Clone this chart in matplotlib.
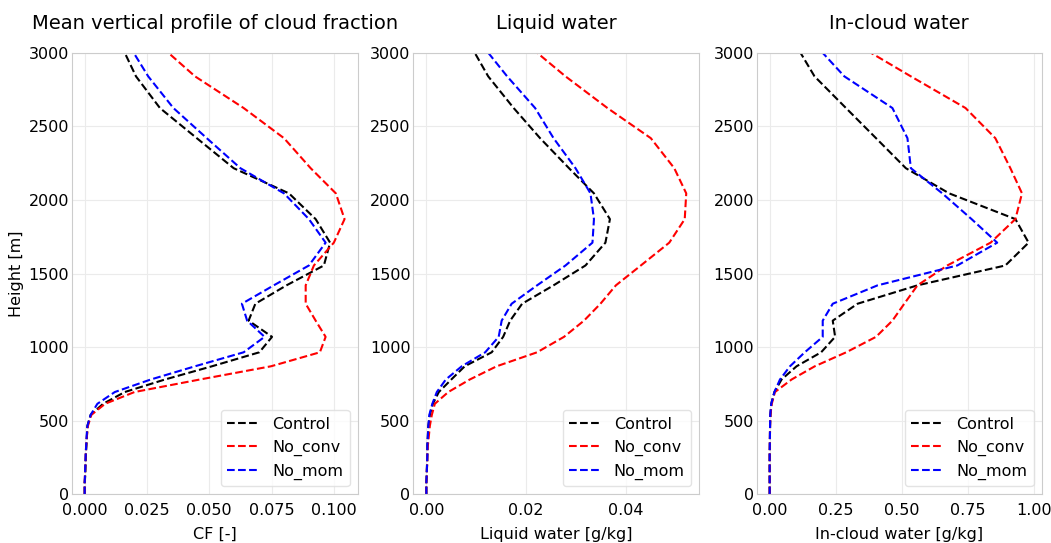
import numpy as np
import matplotlib
matplotlib.use("Agg")
import matplotlib.pyplot as plt

# model levels [m]
height = [0, 20, 45, 80, 120, 165, 215, 270, 330, 395, 465, 540, 615, 695, 780,
          870, 965, 1070, 1180, 1295, 1420, 1555, 1710, 1870, 2045, 2216, 2420,
          2625, 2840, 3060]

# cloud fraction [-]
cf_control = [0, 0, 0, 0, 0.0002, 0.0003, 0.0004, 0.0005, 0.0007, 0.0009, 0.0011,
              0.0024, 0.0074, 0.0161, 0.0322, 0.0511, 0.0701, 0.0752, 0.0658,
              0.0685, 0.081, 0.096, 0.0985, 0.0927, 0.082, 0.0598, 0.045, 0.0302,
              0.0206, 0.0144]
cf_noconv = [0, 0, 0, 0, 0.0001, 0.0002, 0.0003, 0.0004, 0.0006, 0.0009, 0.0013,
             0.0027, 0.0082, 0.020, 0.0462, 0.0748, 0.0944, 0.0967, 0.0927,
             0.0887, 0.0887, 0.092, 0.100, 0.1043, 0.1008, 0.0907, 0.080, 0.0638,
             0.0443, 0.0296]
cf_nomom = [0, 0, 0, 0, 0.0001, 0.0002, 0.0003, 0.0004, 0.0006, 0.0008, 0.0011,
            0.0024, 0.0051, 0.0121, 0.0265, 0.0443, 0.0638, 0.0722, 0.0652,
            0.0631, 0.0759, 0.090, 0.0967, 0.090, 0.080, 0.0625, 0.049, 0.0356,
            0.0255, 0.0175]

# liquid water [g/kg]
lw_control = [0, 0, 0, 0, 0.00005, 0.0001, 0.00015, 0.0002, 0.0002, 0.0003, 0.0004,
              0.0007, 0.0013, 0.0025, 0.005, 0.0077, 0.0131, 0.0154, 0.0168,
              0.0192, 0.0255, 0.0319, 0.0359, 0.0368, 0.0336, 0.0286, 0.0228,
              0.0175, 0.0124, 0.0087]
lw_noconv = [0, 0, 0, 0, 0.0001, 0.0001, 0.0002, 0.0002, 0.0003, 0.0005, 0.0007,
             0.0011, 0.0017, 0.0044, 0.0087, 0.0141, 0.0222, 0.0276, 0.0316,
             0.0349, 0.038, 0.043, 0.0487, 0.0518, 0.0521, 0.0497, 0.045, 0.0363,
             0.0279, 0.0201]
lw_nomom = [0, 0, 0, 0, 0.00005, 0.0001, 0.00015, 0.0002, 0.0002, 0.0003, 0.0004,
            0.0006, 0.0012, 0.0021, 0.0039, 0.0071, 0.0118, 0.0145, 0.0151,
            0.0171, 0.0222, 0.0279, 0.0333, 0.0336, 0.0329, 0.0299, 0.0255,
            0.0218, 0.0162, 0.0110]

# in-cloud water [g/kg]
icw_control = [0, 0, 0, 0, 0, 0, 0, 0, 0.0005, 0.001, 0.0015, 0.003, 0.006, 0.018,
               0.045, 0.102, 0.195, 0.248, 0.239, 0.333, 0.560, 0.893, 0.981,
               0.931, 0.68, 0.516, 0.403, 0.289, 0.170, 0.097]
icw_noconv = [0, 0, 0, 0, 0, 0, 0, 0, 0.0005, 0.001, 0.0015, 0.003, 0.008, 0.020,
              0.083, 0.171, 0.29, 0.403, 0.465, 0.510, 0.560, 0.673, 0.837, 0.931,
              0.956, 0.912, 0.855, 0.742, 0.535, 0.327]
icw_nomom = [0, 0, 0, 0, 0, 0, 0, 0, 0.0005, 0.001, 0.0015, 0.002, 0.006, 0.018,
             0.039, 0.077, 0.133, 0.201, 0.201, 0.239, 0.409, 0.711, 0.862, 0.765,
             0.654, 0.535, 0.522, 0.465, 0.283, 0.17]

runs = ['Control', 'No_conv', 'No_mom']
colors = ['black', 'red', 'blue']

panels = [
    ('Mean vertical profile of cloud fraction', 'CF [-]',
     [cf_control, cf_noconv, cf_nomom]),
    ('Liquid water', 'Liquid water [g/kg]',
     [lw_control, lw_noconv, lw_nomom]),
    ('In-cloud water', 'In-cloud water [g/kg]',
     [icw_control, icw_noconv, icw_nomom]),
]

plt.rcParams['font.family'] = 'DejaVu Sans'
fig = plt.figure(figsize=(10.51, 5.43), dpi=100)
lefts = [0.0682, 0.3933, 0.72]
widths = [0.272, 0.272, 0.271]

for i, (title, xlabel, series) in enumerate(panels):
    ax = fig.add_axes([lefts[i], 0.0897, widths[i], 0.813])
    for vals, name, c in zip(series, runs, colors):
        ax.plot(vals, height, '--', color=c, lw=1.5, label=name)
    ax.set_ylim(0, 3000)
    ax.set_title(title, fontsize=14, pad=17)
    ax.set_xlabel(xlabel, fontsize=11.5, labelpad=6)
    if i == 0:
        ax.set_ylabel('Height [m]', fontsize=11.5, labelpad=3)
    ax.tick_params(labelsize=11.5, length=0)
    ax.tick_params(axis='x', pad=6.5)
    ax.tick_params(axis='y', pad=2)
    ax.grid(True, color='#ebebeb', lw=0.8)
    for s in ax.spines.values():
        s.set_color('#cccccc')
    ax.legend(loc='lower right', fontsize=11.5, edgecolor='#dddddd')

fig.savefig('out.png', dpi=100)
